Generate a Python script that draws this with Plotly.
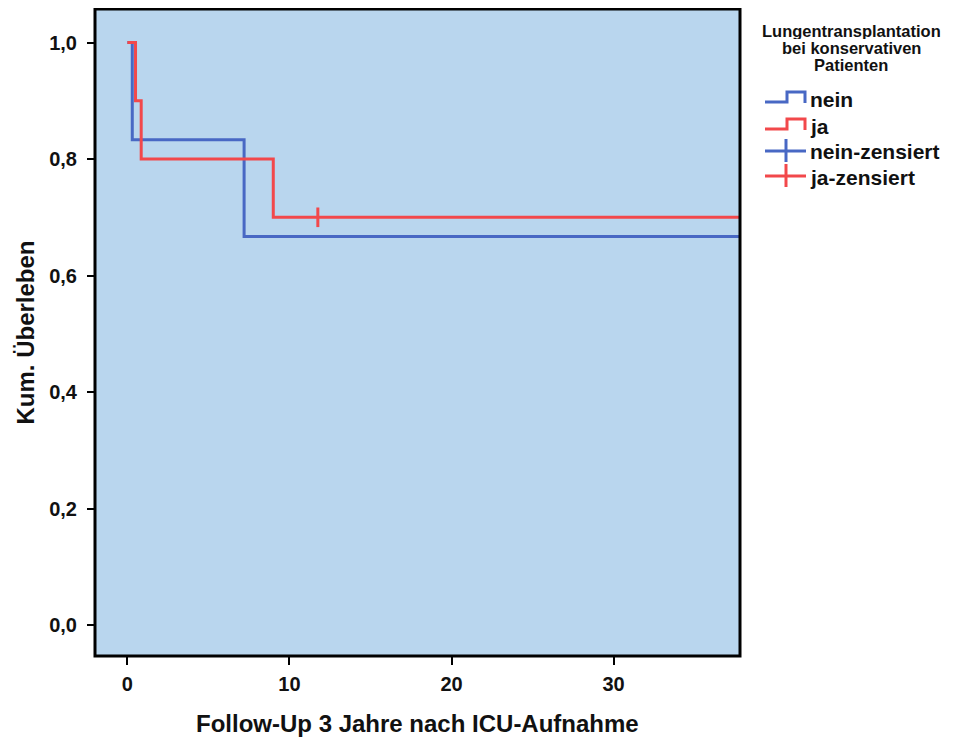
import plotly.graph_objects as go

# ---- data ----
nein_t = [0, 0.3, 7.2, 37.8]
nein_s = [1.0, 0.833, 0.667, 0.667]
ja_t = [0, 0.5, 0.85, 9.0, 37.8]
ja_s = [1.0, 0.9, 0.8, 0.7, 0.7]
nein_cens_t = []
nein_cens_s = []
ja_cens_t = [11.75]
ja_cens_s = [0.7]

x_ticks = [0, 10, 20, 30]
y_ticks = [0.0, 0.2, 0.4, 0.6, 0.8, 1.0]
legend_title_lines = ["Lungentransplantation", "bei konservativen", "Patienten"]
legend_labels = ["nein", "ja", "nein-zensiert", "ja-zensiert"]
x_title = "Follow-Up 3 Jahre nach ICU-Aufnahme"
y_title = "Kum. Überleben"

BLUE = "#4868C4"
RED = "#F2484B"
BG = "#B9D6EE"
FONT = "Liberation Sans, Arial, sans-serif"

OFF = 8  # default body margin of the html page
W, H = 955 - OFF, 737 - OFF
# plot area in page pixels
L, R, T, B = 95, 740, 9, 656

def px(x):
    return (x - L) / (R - L)

def py(y):
    return (B - y) / (B - T)

fig = go.Figure()
fig.add_trace(go.Scatter(x=nein_t, y=nein_s, mode="lines", line=dict(color=BLUE, width=3, shape="hv"), showlegend=False))
fig.add_trace(go.Scatter(x=ja_t, y=ja_s, mode="lines", line=dict(color=RED, width=3, shape="hv"), showlegend=False))
fig.add_trace(go.Scatter(x=nein_cens_t, y=nein_cens_s, mode="markers",
                         marker=dict(symbol="line-ns", size=14, line=dict(color=BLUE, width=3)), showlegend=False))
fig.add_trace(go.Scatter(x=ja_cens_t, y=ja_cens_s, mode="markers",
                         marker=dict(symbol="line-ns", size=14, line=dict(color=RED, width=3)), showlegend=False))

shapes = []
shapes.append(dict(type="rect", xref="paper", yref="paper", x0=0, y0=0, x1=1, y1=1,
                   line=dict(color="black", width=3)))

colors = [BLUE, RED, BLUE, RED]
centers = [100, 127, 153, 178]
annotations = []
for i, (lab, c, yc) in enumerate(zip(legend_labels, colors, centers)):
    if i < 2:
        path = "M {} {} L {} {} L {} {} L {} {} L {} {}".format(
            px(765), py(yc + 2), px(787), py(yc + 2), px(787), py(yc - 8),
            px(805), py(yc - 8), px(805), py(yc + 3))
        shapes.append(dict(type="path", xref="paper", yref="paper", path=path,
                           line=dict(color=c, width=3)))
    else:
        shapes.append(dict(type="line", xref="paper", yref="paper", x0=px(765), x1=px(806),
                           y0=py(yc - 2), y1=py(yc - 2), line=dict(color=c, width=3)))
        shapes.append(dict(type="line", xref="paper", yref="paper", x0=px(786), x1=px(786),
                           y0=py(yc - 14), y1=py(yc + 9), line=dict(color=c, width=3)))
    annotations.append(dict(text="<b>%s</b>" % lab, xref="paper", yref="paper",
                            x=px(808), y=py(yc - 1), xanchor="left", yanchor="middle",
                            showarrow=False, font=dict(size=21, color="#111", family=FONT)))

for line, yc in zip(legend_title_lines, [31, 48, 65]):
    annotations.append(dict(text="<b>%s</b>" % line, xref="paper", yref="paper",
                            x=px(851), y=py(yc), xanchor="center", yanchor="middle",
                            height=16, valign="middle",
                            showarrow=False, font=dict(size=16.5, color="#111", family=FONT)))

annotations.append(dict(text="<b>%s</b>" % x_title, xref="paper", yref="paper",
                        x=0.5, y=py(723), xanchor="center", yanchor="middle",
                        showarrow=False, font=dict(size=24, color="#111", family=FONT)))
annotations.append(dict(text="<b>%s</b>" % y_title, xref="paper", yref="paper",
                        x=px(25), y=0.5, xanchor="center", yanchor="middle", textangle=-90,
                        showarrow=False, font=dict(size=24, color="#111", family=FONT)))

fig.update_layout(
    width=W, height=H,
    margin=dict(l=L - OFF, r=W - (R - OFF), t=T - OFF, b=H - (B - OFF), pad=0),
    paper_bgcolor="white", plot_bgcolor=BG,
    font=dict(family=FONT, color="#111"),
    shapes=shapes, annotations=annotations,
    showlegend=False,
)
fig.update_xaxes(range=[-2, 37.8], tickvals=x_ticks, ticktext=["<b>%d</b>" % v for v in x_ticks],
                 ticks="outside", ticklen=8, tickwidth=2, tickcolor="black",
                 showgrid=False, zeroline=False, showline=False, ticklabelstandoff=2,
                 tickfont=dict(size=20, family=FONT, color="#111"))
fig.update_yaxes(range=[-0.053, 1.0575], tickvals=y_ticks,
                 ticktext=["<b>%s</b>" % ("%.1f" % v).replace(".", ",") for v in y_ticks],
                 ticks="outside", ticklen=7, tickwidth=2, tickcolor="black",
                 showgrid=False, zeroline=False, showline=False, ticklabelstandoff=6,
                 tickfont=dict(size=20, family=FONT, color="#111"))

fig.write_html("out.html")
